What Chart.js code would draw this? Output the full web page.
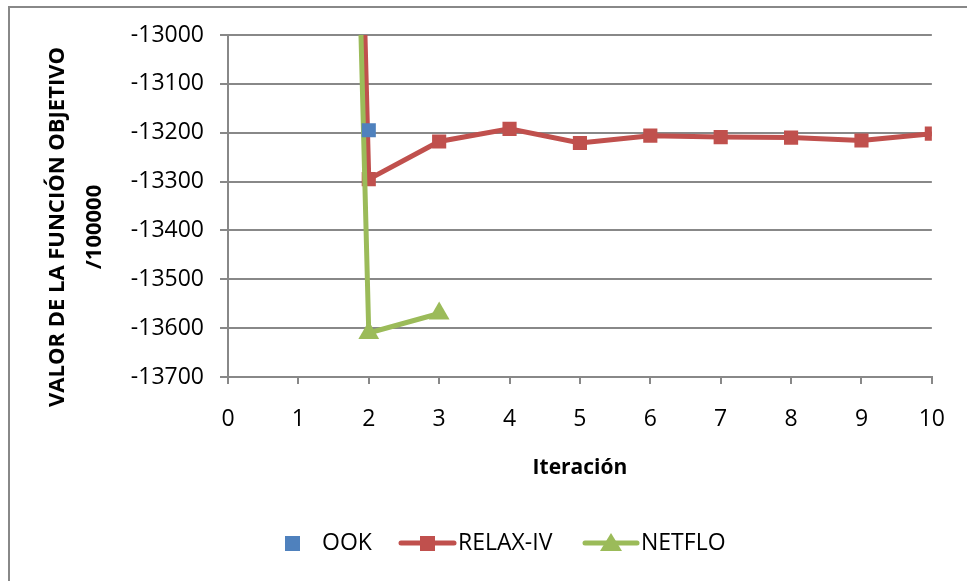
<!DOCTYPE html>
<html lang="es">
<head>
<meta charset="UTF-8">
<title>Valor de la función objetivo</title>
<script src="https://cdn.jsdelivr.net/npm/chart.js"></script>
<style>
    body { margin: 0; background: #fff; }
    canvas { display: block; }
</style>
</head>
<body>
<canvas id="grafico" width="967" height="581"></canvas>
<script>
// Datos
const iteraciones = [1, 2, 3, 4, 5, 6, 7, 8, 9, 10];
const relaxIV = [-7850, -13295, -13218, -13192, -13221, -13206, -13209, -13210, -13216, -13202];
const netfloIter = [1, 2, 3];
const netflo = [-8100, -13610, -13570];
const ookIter = [2];
const ook = [-13195];
const xTicks = [0, 1, 2, 3, 4, 5, 6, 7, 8, 9, 10];
const yTicks = [-13700, -13600, -13500, -13400, -13300, -13200, -13100, -13000];

const AZUL = '#4F81BD';
const ROJO = '#C0504D';
const VERDE = '#9BBB59';
const GRIS = '#888888';
const FUENTE = "'Open Sans', sans-serif";

const puntos = (xs, ys) => xs.map((x, i) => ({ x: x, y: ys[i] }));

// Marco exterior, título del eje Y y leyenda
const extras = {
    id: 'extras',
    beforeDraw(chart) {
        const ctx = chart.ctx;
        ctx.save();
        ctx.fillStyle = '#fff';
        ctx.fillRect(0, 0, chart.width, chart.height);
        ctx.strokeStyle = GRIS;
        ctx.lineWidth = 2;
        ctx.strokeRect(9, 7, chart.width + 20, chart.height + 20);
        ctx.restore();
    },
    afterDraw(chart) {
        const ctx = chart.ctx;
        ctx.save();
        // título eje Y (dos líneas)
        ctx.fillStyle = '#000';
        ctx.font = "bold 22px " + FUENTE;
        ctx.textAlign = 'center';
        ctx.textBaseline = 'middle';
        ctx.translate(58, 227);
        ctx.rotate(-Math.PI / 2);
        ctx.fillText('VALOR DE LA FUNCIÓN OBJETIVO', 0, 0);
        ctx.fillText('/100000', 0, 37);
        ctx.restore();

        // leyenda
        ctx.save();
        const y = 543;
        ctx.font = "23px " + FUENTE;
        ctx.textBaseline = 'middle';
        ctx.textAlign = 'left';
        // OOK
        ctx.fillStyle = AZUL;
        ctx.fillRect(285, y - 7, 15, 15);
        ctx.fillStyle = '#000';
        ctx.fillText('OOK', 322, y);
        // RELAX-IV
        ctx.strokeStyle = ROJO;
        ctx.lineWidth = 5;
        ctx.lineCap = 'round';
        ctx.beginPath(); ctx.moveTo(401, y); ctx.lineTo(454, y); ctx.stroke();
        ctx.fillStyle = ROJO;
        ctx.fillRect(420, y - 7, 15, 15);
        ctx.fillStyle = '#000';
        ctx.fillText('RELAX-IV', 458, y);
        // NETFLO
        ctx.strokeStyle = VERDE;
        ctx.beginPath(); ctx.moveTo(585, y); ctx.lineTo(637, y); ctx.stroke();
        ctx.fillStyle = VERDE;
        ctx.beginPath();
        ctx.moveTo(611, y - 10); ctx.lineTo(622, y + 8); ctx.lineTo(600, y + 8);
        ctx.closePath(); ctx.fill();
        ctx.fillStyle = '#000';
        ctx.fillText('NETFLO', 641, y);
        ctx.restore();
    }
};

new Chart(document.getElementById('grafico'), {
    type: 'line',
    data: {
        datasets: [
            {
                label: 'OOK',
                data: puntos(ookIter, ook),
                showLine: false,
                pointStyle: 'rect',
                pointRadius: 10,
                pointBackgroundColor: AZUL,
                pointBorderColor: AZUL,
                pointBorderWidth: 0,
                order: 0
            },
            {
                label: 'NETFLO',
                data: puntos(netfloIter, netflo),
                borderColor: VERDE,
                borderWidth: 5,
                pointStyle: 'triangle',
                pointRadius: 12,
                pointBackgroundColor: VERDE,
                pointBorderColor: VERDE,
                pointBorderWidth: 0,
                tension: 0,
                order: 1
            },
            {
                label: 'RELAX-IV',
                data: puntos(iteraciones, relaxIV),
                borderColor: ROJO,
                borderWidth: 5,
                pointStyle: 'rect',
                pointRadius: 10,
                pointBackgroundColor: ROJO,
                pointBorderColor: ROJO,
                pointBorderWidth: 0,
                tension: 0,
                order: 2
            }
        ]
    },
    options: {
        responsive: false,
        animation: false,
        layout: { padding: { top: 35, right: 35, left: 0, bottom: 94 } },
        plugins: {
            legend: { display: false },
            tooltip: { enabled: false }
        },
        scales: {
            x: {
                type: 'linear',
                min: 0,
                max: 10,
                afterBuildTicks: (scale) => { scale.ticks = xTicks.map(v => ({ value: v })); },
                afterFit: (scale) => { scale.height = 110; },
                ticks: {
                    color: '#000',
                    font: { family: FUENTE, size: 23 },
                    padding: 22,
                    maxRotation: 0,
                    callback: (v) => String(v)
                },
                grid: {
                    drawOnChartArea: false,
                    drawTicks: true,
                    tickLength: 7,
                    color: GRIS,
                    lineWidth: 2
                },
                border: { color: GRIS, width: 2 },
                title: {
                    display: true,
                    text: 'Iteración',
                    color: '#000',
                    font: { family: FUENTE, size: 21, weight: 'bold' },
                    padding: { top: 0, bottom: 6 }
                }
            },
            y: {
                type: 'linear',
                min: -13700,
                max: -13000,
                afterBuildTicks: (scale) => { scale.ticks = yTicks.map(v => ({ value: v })); },
                afterFit: (scale) => { scale.width = 228; },
                ticks: {
                    color: '#000',
                    font: { family: FUENTE, size: 23 },
                    padding: 16,
                    callback: (v) => String(v)
                },
                grid: {
                    color: GRIS,
                    lineWidth: 2,
                    tickLength: 8
                },
                border: { color: GRIS, width: 2 }
            }
        }
    },
    plugins: [extras]
});
</script>
</body>
</html>
